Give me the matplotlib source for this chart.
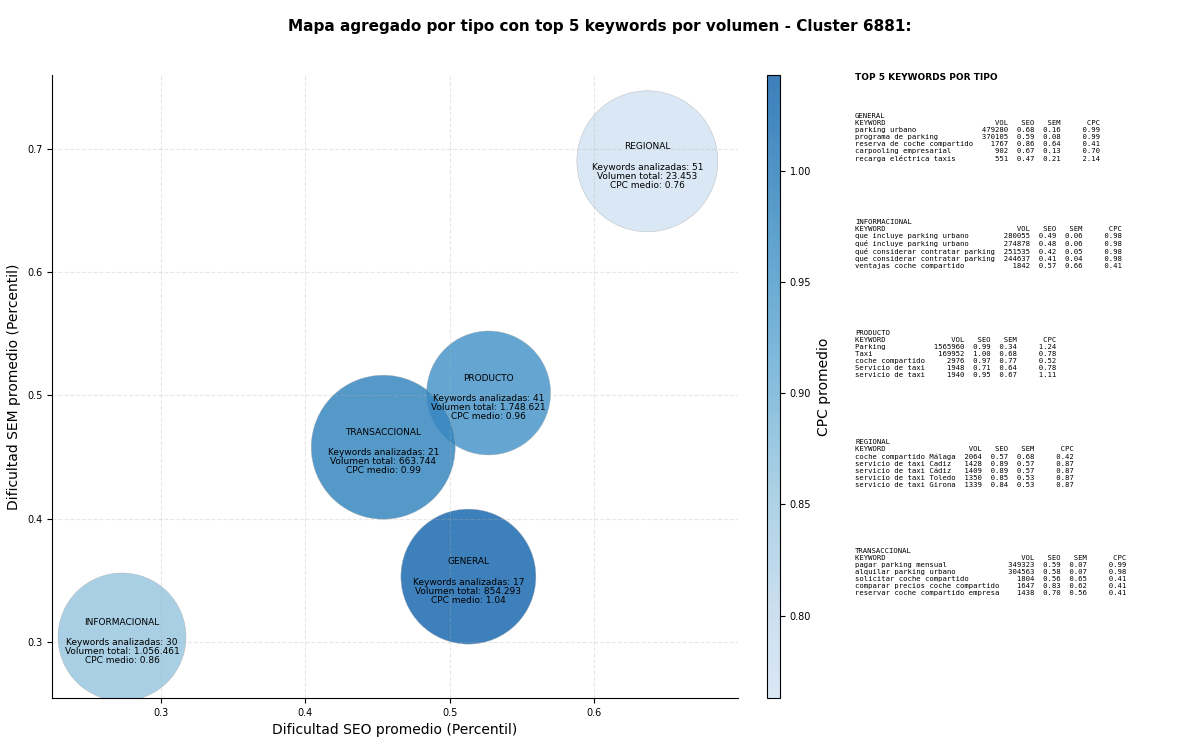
import numpy as np
import matplotlib
matplotlib.use("Agg")
import matplotlib.pyplot as plt
from matplotlib.colors import LinearSegmentedColormap

tipos = ["GENERAL", "INFORMACIONAL", "PRODUCTO", "REGIONAL", "TRANSACCIONAL"]
seo = [0.513, 0.273, 0.527, 0.637, 0.454]
sem = [0.353, 0.304, 0.502, 0.690, 0.458]
cpc = [1.04, 0.86, 0.96, 0.76, 0.99]
n_kw = [17, 30, 41, 51, 21]
vol_txt = ["854.293", "1.056.461", "1.748.621", "23.453", "663.744"]
radio_px = [67.5, 64, 62, 70.5, 72]

top5 = {
    "GENERAL": [("parking urbano", 479280, 0.68, 0.16, 0.99),
                ("programa de parking", 370105, 0.59, 0.08, 0.99),
                ("reserva de coche compartido", 1767, 0.86, 0.64, 0.41),
                ("carpooling empresarial", 902, 0.67, 0.13, 0.70),
                ("recarga eléctrica taxis", 551, 0.47, 0.21, 2.14)],
    "INFORMACIONAL": [("que incluye parking urbano", 280055, 0.49, 0.06, 0.98),
                      ("qué incluye parking urbano", 274878, 0.48, 0.06, 0.98),
                      ("qué considerar contratar parking", 251535, 0.42, 0.05, 0.98),
                      ("que considerar contratar parking", 244637, 0.41, 0.04, 0.98),
                      ("ventajas coche compartido", 1842, 0.57, 0.66, 0.41)],
    "PRODUCTO": [("Parking", 1565960, 0.99, 0.34, 1.24),
                 ("Taxi", 169952, 1.00, 0.68, 0.78),
                 ("coche compartido", 2976, 0.97, 0.77, 0.52),
                 ("Servicio de taxi", 1948, 0.71, 0.64, 0.78),
                 ("servicio de taxi", 1940, 0.95, 0.67, 1.11)],
    "REGIONAL": [("coche compartido Málaga", 2064, 0.57, 0.68, 0.42),
                 ("servicio de taxi Cadiz", 1428, 0.89, 0.57, 0.87),
                 ("servicio de taxi Cádiz", 1409, 0.89, 0.57, 0.87),
                 ("servicio de taxi Toledo", 1350, 0.85, 0.53, 0.87),
                 ("servicio de taxi Girona", 1339, 0.84, 0.53, 0.87)],
    "TRANSACCIONAL": [("pagar parking mensual", 349323, 0.59, 0.07, 0.99),
                      ("alquilar parking urbano", 304563, 0.58, 0.07, 0.98),
                      ("solicitar coche compartido", 1804, 0.56, 0.65, 0.41),
                      ("comparar precios coche compartido", 1647, 0.83, 0.62, 0.41),
                      ("reservar coche compartido empresa", 1438, 0.70, 0.56, 0.41)],
}

dpi = 100
fig = plt.figure(figsize=(12, 7.45), dpi=dpi)
ax = fig.add_axes([52/1200, 1-698/745, 686/1200, 623/745])
cax = fig.add_axes([767/1200, 1-698/745, 13/1200, 623/745])

cmap = LinearSegmentedColormap.from_list("b", plt.cm.Blues(np.linspace(0.18, 0.78, 256)))
sizes = [(2*r*72/dpi)**2 for r in radio_px]
sc = ax.scatter(seo, sem, s=sizes, c=cpc, cmap=cmap, vmin=0.763, vmax=1.043,
                alpha=0.85, edgecolors="#aaaaaa", linewidths=0.3)
for t, x, y, n, v, c in zip(tipos, seo, sem, n_kw, vol_txt, cpc):
    ax.text(x, y + 0.012, t, ha="center", va="center", fontsize=6.5)
    ax.text(x, y - 0.012, f"Keywords analizadas: {n}\nVolumen total: {v}\nCPC medio: {c:.2f}",
            ha="center", va="center", fontsize=6.5, linespacing=1.0)

ax.set_xlim(0.2245, 0.6998)
ax.set_ylim(0.2545, 0.760)
ax.set_xticks([0.3, 0.4, 0.5, 0.6])
ax.set_yticks([0.3, 0.4, 0.5, 0.6, 0.7])
ax.tick_params(labelsize=7)
ax.grid(True, linestyle="--", alpha=0.3)
ax.spines["top"].set_visible(False)
ax.spines["right"].set_visible(False)
ax.set_xlabel("Dificultad SEO promedio (Percentil)", fontsize=10)
ax.set_ylabel("Dificultad SEM promedio (Percentil)", fontsize=10)

cb = fig.colorbar(sc, cax=cax)
cb.set_label("CPC promedio", fontsize=10)
cb.ax.tick_params(labelsize=7)
cb.solids.set_alpha(0.85)

fig.suptitle("Mapa agregado por tipo con top 5 keywords por volumen - Cluster 6881:",
             fontsize=11, fontweight="bold", y=0.975)

fig.text(855/1200, 1-78/745, "TOP 5 KEYWORDS POR TIPO", fontsize=6.5, fontweight="bold", va="center")
ytop = [113, 219, 330, 439, 548]
for t, y0 in zip(tipos, ytop):
    rows = top5[t]
    w = max(len(r[0]) for r in rows)
    vw = max(len(str(r[1])) for r in rows)
    lines = [t, f"{'KEYWORD':<{w}}  {'VOL':>{vw}}  {'SEO':>4}  {'SEM':>4}  {'CPC':>7}"]
    for k, v, s1, s2, c in rows:
        lines.append(f"{k:<{w}}  {v:>{vw}}  {s1:>4.2f}  {s2:>4.2f}  {c:>7.2f}")
    fig.text(855/1200, 1-y0/745, "\n".join(lines), family="DejaVu Sans Mono",
             fontsize=5.2, va="top", linespacing=1.2)

fig.savefig("out.png", dpi=dpi)
